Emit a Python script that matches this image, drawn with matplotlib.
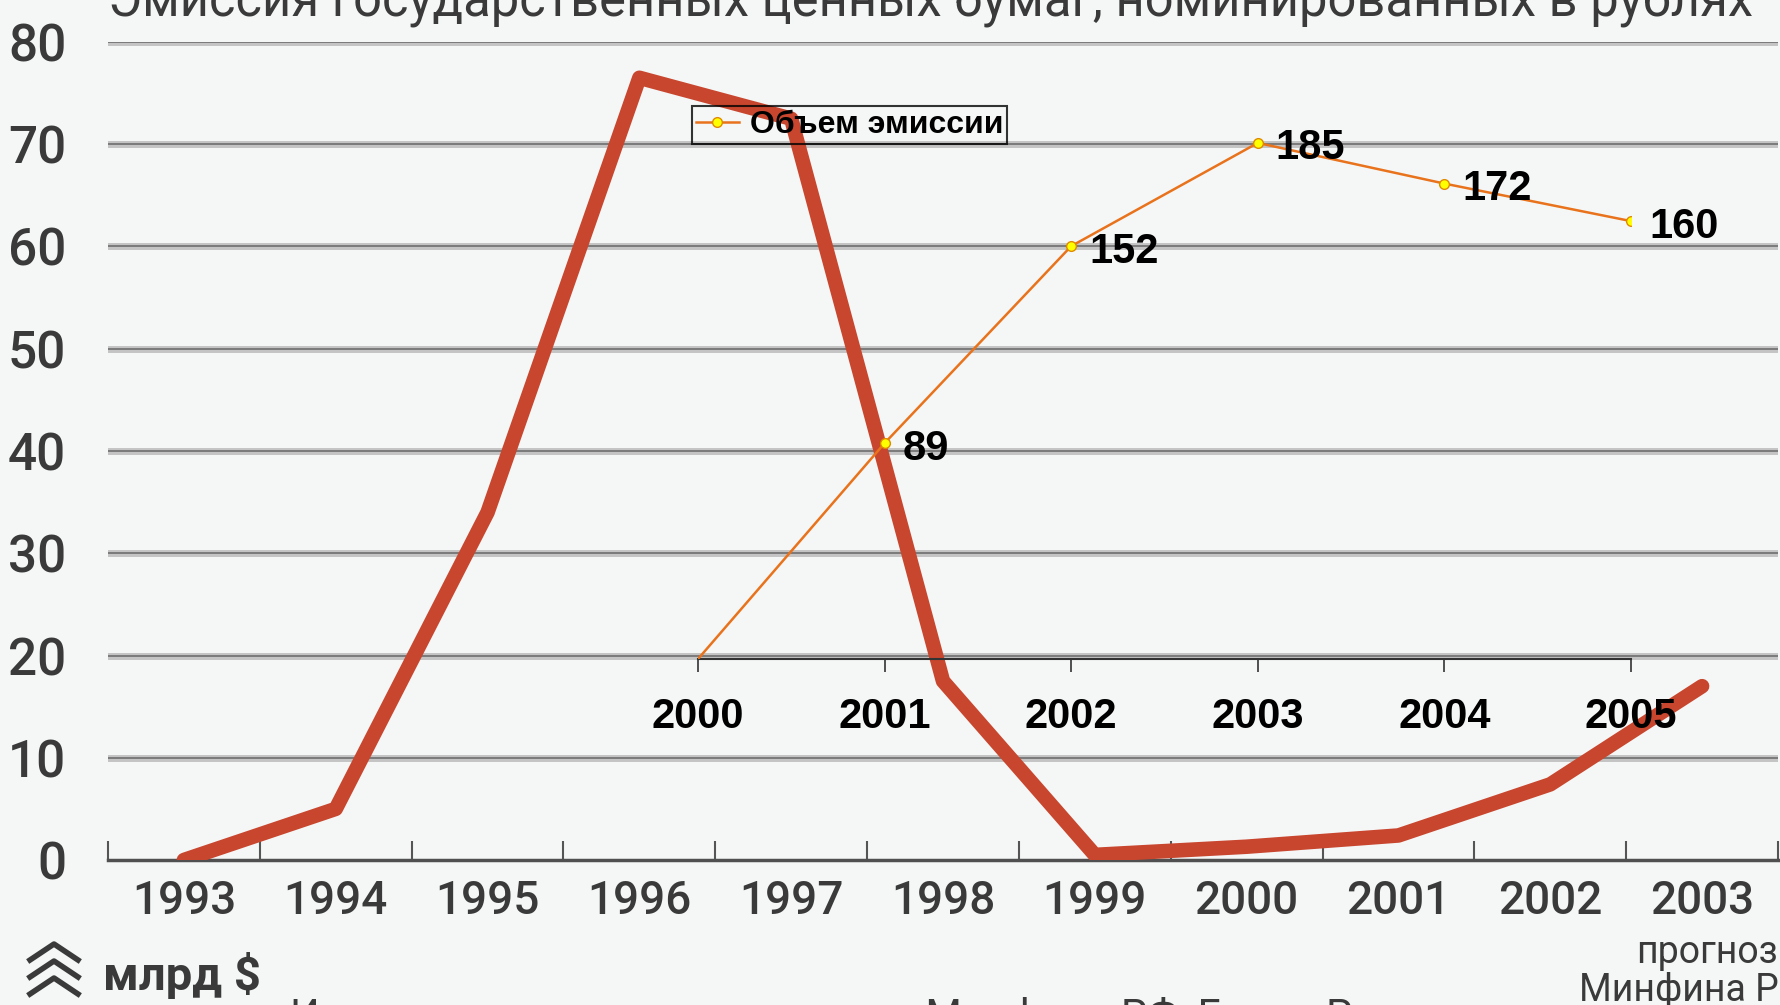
import matplotlib
matplotlib.use("Agg")
import matplotlib.pyplot as plt
from matplotlib.lines import Line2D

# background chart (blurry scan): billions $, 1993-2003
years_bg = ["1993", "1994", "1995", "1996", "1997", "1998",
            "1999", "2000", "2001", "2002", "2003"]
debt_bg = [0, 5, 34, 76.5, 72.5, 17.5, 0.5, 1.3, 2.4, 7.4, 17]
yticks_bg = [0, 10, 20, 30, 40, 50, 60, 70, 80]

# overlay chart: emission volume
years_ov = [2000, 2001, 2002, 2003, 2004, 2005]
emission = [20, 89, 152, 185, 172, 160]
emission_labels = ["", "89", "152", "185", "172", "160"]

narrow = ["Roboto", "DejaVu Sans"]
bold = ["Liberation Sans", "DejaVu Sans"]
grey_text = "#3a3a3a"

W, H = 1781, 1005
fig = plt.figure(figsize=(W / 100, H / 100), dpi=100)
fig.patch.set_facecolor("#f5f7f7")

# ---- background chart
ax = fig.add_axes([108 / W, 145 / H, 1670 / W, 818 / H])
ax.set_facecolor("none")
x = list(range(len(years_bg)))
for v in yticks_bg[1:]:
    ax.axhline(v, color="#c4c4c4", lw=5, zorder=1)
    ax.axhline(v, color="#6e6e6e", lw=1.2, zorder=1)
ax.plot(x, debt_bg, color="#c8462e", lw=10.5, solid_joinstyle="round",
        solid_capstyle="round", zorder=3)
ax.set_xlim(-0.5, len(years_bg) - 0.5)
ax.set_ylim(0, 80)
ax.set_yticks(yticks_bg)
ax.set_yticklabels([str(v) for v in yticks_bg], family=narrow, fontsize=37,
                   color=grey_text, fontweight="medium")
ax.tick_params(axis="y", length=0, pad=30)
ax.set_xticks([i - 0.5 for i in range(len(years_bg) + 1)])
ax.set_xticklabels([])
ax.set_xticks(x, minor=True)
ax.set_xticklabels(years_bg, minor=True, family=narrow, fontsize=33,
                   color=grey_text, fontweight="medium")
ax.tick_params(axis="x", which="major", direction="in", length=14, width=1.5,
               color="#555555")
ax.tick_params(axis="x", which="minor", length=0, pad=14)
for s in ["top", "right", "left"]:
    ax.spines[s].set_visible(False)
ax.spines["bottom"].set_color("#505050")
ax.spines["bottom"].set_linewidth(2.5)

# texts around the scan (partly cut off)
fig.text(108 / W, 1 - 16 / H,
         "Эмиссия государственных ценных бумаг, номинированных в рублях",
         family=narrow, fontsize=36.5, color=grey_text, va="baseline")
fig.text(103 / W, 1 - 975 / H, "млрд $", family=narrow, fontsize=34,
         color=grey_text, va="center", fontweight="bold")
fig.text(1778 / W, 1 - 952 / H, "прогноз", family=narrow, fontsize=27,
         color=grey_text, va="center", ha="right")
fig.text(1579 / W, 1 - 990 / H, "Минфина РФ", family=narrow, fontsize=27,
         color=grey_text, va="center", ha="left")
fig.text(290 / W, 1 - 997 / H,
         "Источники: расчеты по данным Минфина РФ, Банка России",
         family=narrow, fontsize=30, color=grey_text, va="top")
for k in range(3):
    yy = 1 - (944 + k * 17) / H
    fig.add_artist(Line2D([30 / W, 54 / W, 78 / W],
                          [yy - 16 / H, yy, yy - 16 / H],
                          color=grey_text, lw=4))

# ---- overlay chart
ov = fig.add_axes([698 / W, 1 - 659 / H, 933 / W, 563 / H])
ov.set_facecolor("none")
ov.plot(years_ov, emission, color="#e8731c", lw=1.8, zorder=4,
        marker="o", markevery=list(range(1, len(years_ov))),
        markersize=7, markerfacecolor="#ffff00", markeredgecolor="#e08a00",
        markeredgewidth=1)
for xv, yv, lab in zip(years_ov, emission, emission_labels):
    if lab:
        ov.annotate(lab, (xv, yv), xytext=(13, -4), textcoords="offset points",
                    family=bold, fontsize=30, fontweight="bold",
                    va="center", ha="left", color="black", zorder=5)
ov.set_xlim(2000, 2005)
ov.set_ylim(20, 200)
ov.set_xticks(years_ov)
ov.set_xticklabels([str(v) for v in years_ov], family=bold, fontsize=30,
                   fontweight="bold")
ov.tick_params(axis="x", direction="out", length=9, width=1.2,
               color="#333333", pad=18)
ov.set_yticks([])
for s in ["top", "right", "left"]:
    ov.spines[s].set_visible(False)
ov.spines["bottom"].set_color("#333333")
ov.spines["bottom"].set_linewidth(1.5)

legend_handle = Line2D([], [], color="#e8731c", lw=1.8, marker="o",
                       markersize=7, markerfacecolor="#ffff00",
                       markeredgecolor="#e08a00")
leg = fig.legend([legend_handle], ["Объем эмиссии"],
                 loc="upper left", bbox_to_anchor=(692 / W, 1 - 106 / H),
                 prop={"family": bold, "size": 23, "weight": "bold"},
                 frameon=True, fancybox=False, handlelength=1.35,
                 handletextpad=0.35, borderpad=0.12, borderaxespad=0)
leg.get_frame().set_facecolor("none")
leg.get_frame().set_edgecolor("black")
leg.get_frame().set_linewidth(1.5)

fig.savefig("out.png", dpi=100, facecolor=fig.get_facecolor())
